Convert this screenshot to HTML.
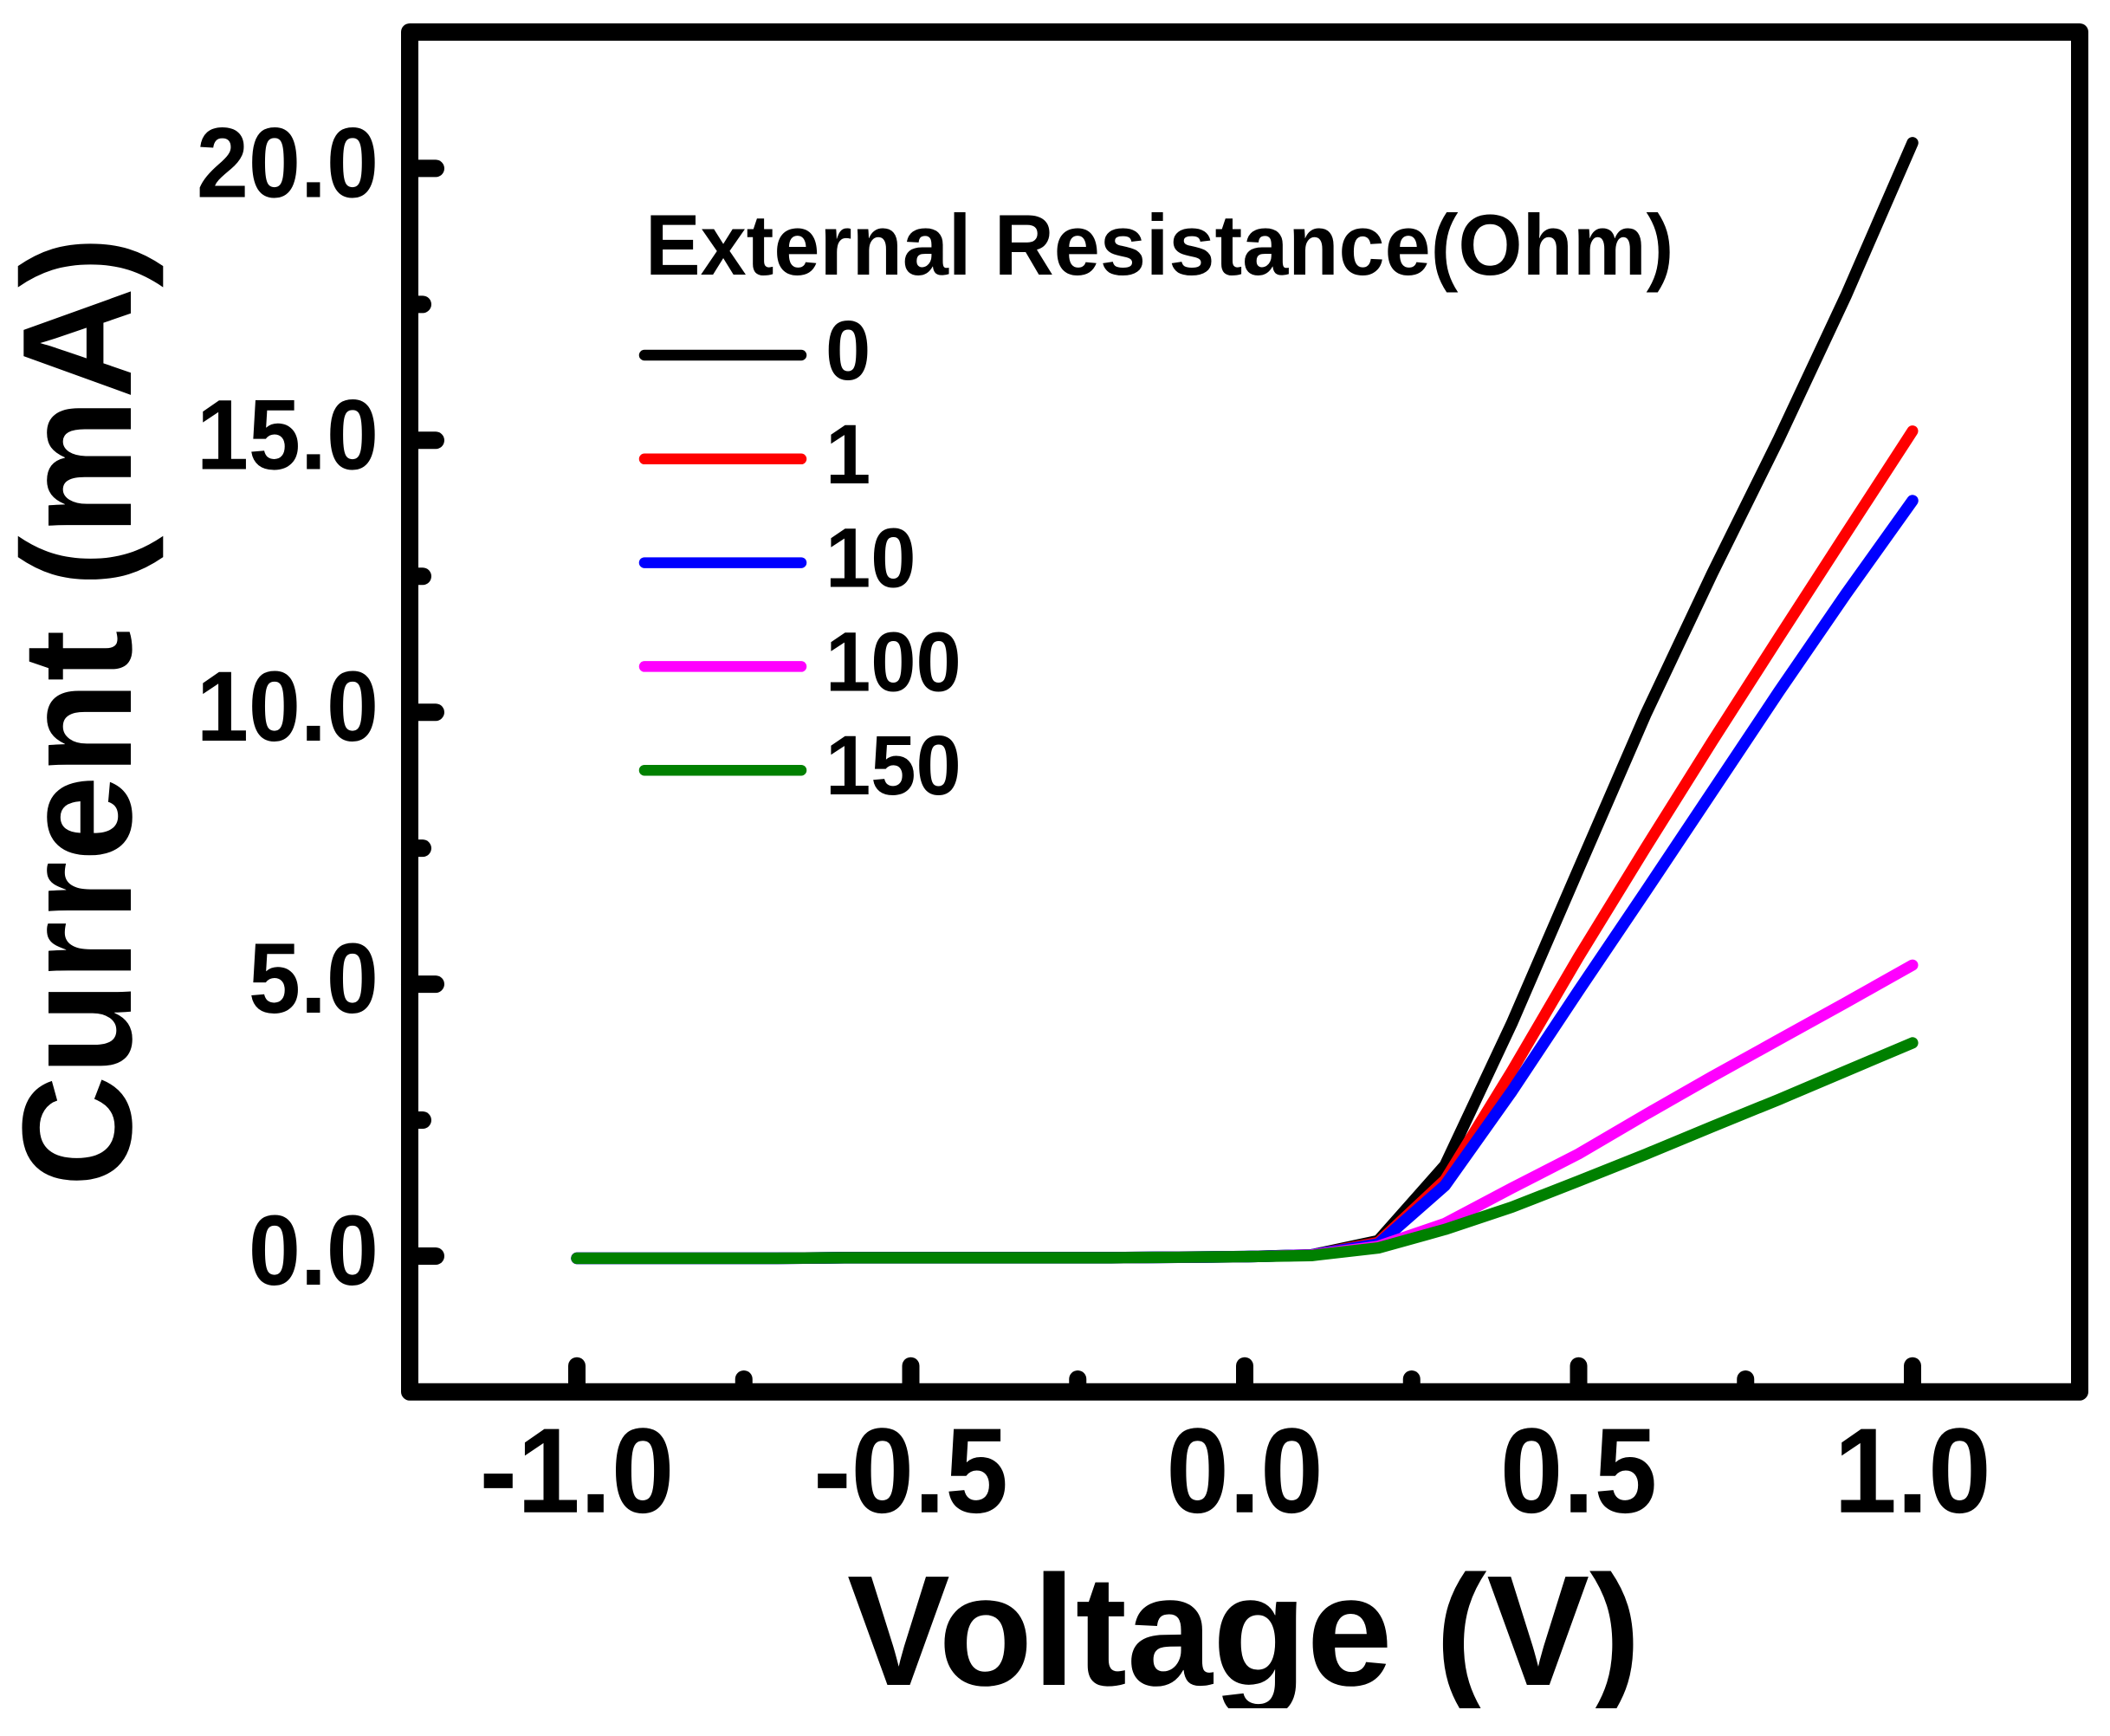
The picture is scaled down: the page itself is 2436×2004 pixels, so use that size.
<!DOCTYPE html>
<html lang="en">
<head>
<meta charset="utf-8">
<title>Current vs Voltage</title>
<style>
html,body{margin:0;padding:0;background:#fff;}
svg{display:block;}
text{font-family:"Liberation Sans",Arial,sans-serif;font-weight:700;fill:#000;}
</style>
</head>
<body>
<svg id="chart" xmlns="http://www.w3.org/2000/svg" width="2436" height="2004" viewBox="0 0 2436 2004">
<defs><clipPath id="xclip"><rect x="0" y="1700" width="2436" height="272"/></clipPath></defs>
<rect x="0" y="0" width="2436" height="2004" fill="#fff"/>
<g id="ticks"></g>
<rect x="473" y="37" width="1928" height="1569.7" fill="none" stroke="#000" stroke-width="20" stroke-linejoin="round"/>
<g id="series"></g>
<g id="labels"></g>
<g clip-path="url(#xclip)"><text transform="translate(978,1945) scale(1,1.02)" font-size="178">Voltage (V)</text></g>
<text transform="translate(151,1370) rotate(-90) scale(1,1.01)" font-size="178">Current (mA)</text>
<text transform="translate(745,317) scale(1,1.04)" font-size="95.4">External Resistance(Ohm)</text>
<g id="legend"></g>
</svg>
<script>
const voltages = [-1.0,-0.9,-0.8,-0.7,-0.6,-0.5,-0.4,-0.3,-0.2,-0.1,0.0,0.1,0.2,0.3,0.4,0.5,0.6,0.7,0.8,0.9,1.0];
const current0 = [-0.04,-0.04,-0.04,-0.04,-0.03,-0.03,-0.03,-0.03,-0.03,-0.02,-0.01,0.02,0.28,1.67,4.28,7.12,9.95,12.55,15.03,17.65,20.47];
const current1 = [-0.04,-0.04,-0.04,-0.04,-0.03,-0.03,-0.03,-0.03,-0.03,-0.02,-0.01,0.02,0.25,1.40,3.40,5.50,7.50,9.46,11.38,13.28,15.17];
const current10 = [-0.04,-0.04,-0.04,-0.04,-0.03,-0.03,-0.03,-0.03,-0.03,-0.02,-0.01,0.02,0.22,1.30,3.03,4.88,6.70,8.54,10.38,12.17,13.89];
const current100 = [-0.04,-0.04,-0.04,-0.04,-0.03,-0.03,-0.03,-0.03,-0.03,-0.02,-0.01,0.02,0.18,0.60,1.25,1.88,2.60,3.30,3.98,4.66,5.35];
const current150 = [-0.04,-0.04,-0.04,-0.04,-0.03,-0.03,-0.03,-0.03,-0.03,-0.02,-0.01,0.01,0.15,0.49,0.90,1.38,1.87,2.38,2.88,3.40,3.92];
const seriesNames = ["0","1","10","100","150"];
const seriesColors = ["#000000","#ff0000","#0000ff","#ff00ff","#008000"];
const seriesWidths = [13.5,13,13.5,13,13.2];
const seriesValues = [current0,current1,current10,current100,current150];
const xMajorTicks = [-1.0,-0.5,0.0,0.5,1.0];
const xMinorTicks = [-0.75,-0.25,0.25,0.75];
const yMajorTicks = [0,5,10,15,20];
const yMinorTicks = [2.5,7.5,12.5,17.5];
const xTickLabels = ["-1.0","-0.5","0.0","0.5","1.0"];
const yTickLabels = ["0.0","5.0","10.0","15.0","20.0"];

const NS = "http://www.w3.org/2000/svg";
function xPos(v){ return 1437 + 771 * v; }
function yPos(v){ return 1450 - 62.78 * v; }
function make(tag, parent, attrs){
  const el = document.createElementNS(NS, tag);
  for (const k in attrs) el.setAttribute(k, attrs[k]);
  parent.appendChild(el);
  return el;
}
const ticksG = document.getElementById("ticks");
const seriesG = document.getElementById("series");
const labelsG = document.getElementById("labels");
const legendG = document.getElementById("legend");
const tickStyle = {stroke:"#000","stroke-width":20,"stroke-linecap":"round",fill:"none"};

function tickLine(x1,y1,x2,y2){
  return make("line", ticksG, Object.assign({x1:x1,y1:y1,x2:x2,y2:y2}, tickStyle));
}
xMajorTicks.forEach(function(v,i){
  const t = tickLine(xPos(v),1606,xPos(v),1576.7);
  
  
  const l = make("text", labelsG, {transform:"translate("+xPos(v)+",1745.7) scale(1,1.07)","font-size":130.5,"text-anchor":"middle"});
  l.textContent = xTickLabels[i];
  
  
});
xMinorTicks.forEach(function(v){
  const t = tickLine(xPos(v),1606,xPos(v),1592);
  
  
});
yMajorTicks.forEach(function(v,i){
  const t = tickLine(473,yPos(v),503,yPos(v));
  
  
  const l = make("text", labelsG, {transform:"translate(437,"+(yPos(v)+33)+") scale(1,1.07)","font-size":108,"text-anchor":"end"});
  l.textContent = yTickLabels[i];
  
  
});
yMinorTicks.forEach(function(v){
  const t = tickLine(473,yPos(v),488,yPos(v));
  
  
});
seriesValues.forEach(function(vals,i){
  const pts = vals.map(function(c,j){ return xPos(voltages[j]).toFixed(1)+","+yPos(c).toFixed(1); }).join(" ");
  const p = make("polyline", seriesG, {points:pts,fill:"none",stroke:seriesColors[i],"stroke-width":seriesWidths[i],"stroke-linecap":"round","stroke-linejoin":"round"});
  
  
  const rowY = 410 + 119.8 * i;
  const s = make("line", legendG, {x1:744,y1:rowY,x2:925,y2:rowY,stroke:seriesColors[i],"stroke-width":12.5,"stroke-linecap":"round"});
  
  
  const t = make("text", legendG, {transform:"translate(953,"+(rowY+28)+") scale(1,1.04)","font-size":94});
  t.textContent = seriesNames[i];
  
  
});
</script>
</body>
</html>
